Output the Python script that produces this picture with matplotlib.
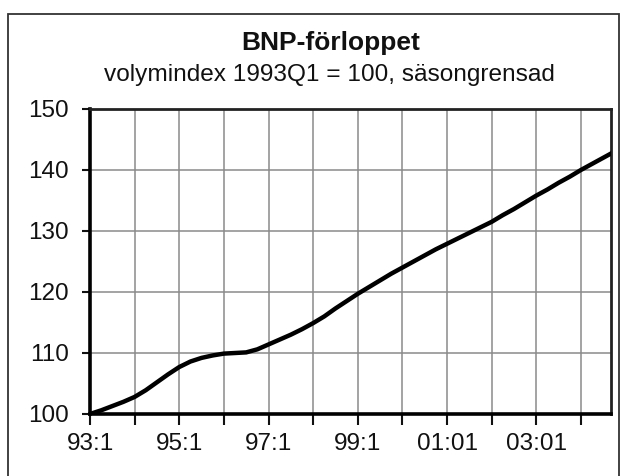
import matplotlib
matplotlib.use("Agg")
import matplotlib.pyplot as plt
from matplotlib.patches import Rectangle
import numpy as np

plt.rcParams['font.family'] = ['Liberation Sans', 'DejaVu Sans']

title = "BNP-förloppet"
subtitle = "volymindex 1993Q1 = 100, säsongrensad"

# quarterly GDP volume index 1993Q1 .. 2004Q4
bnp = [100.0, 100.6, 101.3, 102.0,
       102.8, 103.9, 105.2, 106.5,
       107.7, 108.6, 109.2, 109.6,
       109.9, 110.0, 110.1, 110.6,
       111.4, 112.2, 113.0, 113.9,
       114.9, 116.0, 117.3, 118.5,
       119.7, 120.8, 121.9, 123.0,
       124.0, 125.0, 126.0, 127.0,
       127.9, 128.8, 129.7, 130.6,
       131.5, 132.6, 133.6, 134.7,
       135.8, 136.8, 137.9, 138.9,
       140.0, 141.0, 142.0, 143.0]
tick_labels = ["93:1", "95:1", "97:1", "99:1", "01:01", "03:01"]
yticks = [100, 110, 120, 130, 140, 150]

W, H = 622, 476
fig = plt.figure(figsize=(W / 100, H / 100), dpi=100)

# outer frame
fig.patches.append(Rectangle((8 / W, -0.05), (619 - 8) / W, (H - 14) / H + 0.05,
                             transform=fig.transFigure, fill=False,
                             edgecolor='#333333', linewidth=1.3))

ax = fig.add_axes([90 / W, 1 - 414 / H, (611 - 90) / W, (414 - 109) / H])
x = np.arange(len(bnp))
ax.plot(x, bnp, color='black', lw=3.2, solid_capstyle='round', zorder=3)

ax.set_xlim(0, 46.7)
ax.set_ylim(100, 150)
ax.set_yticks(yticks)
ax.set_xticks(np.arange(0, 47, 4), minor=True)
ax.set_xticks(np.arange(0, 47, 8))
ax.set_xticklabels(tick_labels)
ax.grid(True, which='both', color='#8a8a8a', lw=1.1)
ax.set_axisbelow(True)

ax.tick_params(axis='y', direction='out', length=6, width=1.5, pad=9,
               labelsize=17.5, colors='#111111')
ax.tick_params(axis='x', which='both', direction='out', length=8, width=1.5,
               pad=6, labelsize=17.5, colors='#111111')

for s in ['left', 'bottom']:
    ax.spines[s].set_linewidth(2.6)
    ax.spines[s].set_color('black')
for s in ['top', 'right']:
    ax.spines[s].set_linewidth(2.0)
    ax.spines[s].set_color('#222222')

fig.text(331 / W, 1 - 43 / H, title, ha='center', va='center',
         fontsize=19, fontweight='bold', color='#111111')
fig.text(329 / W, 1 - 75 / H, subtitle, ha='center', va='center',
         fontsize=17.6, color='#111111')

fig.savefig("out.png", dpi=100)
